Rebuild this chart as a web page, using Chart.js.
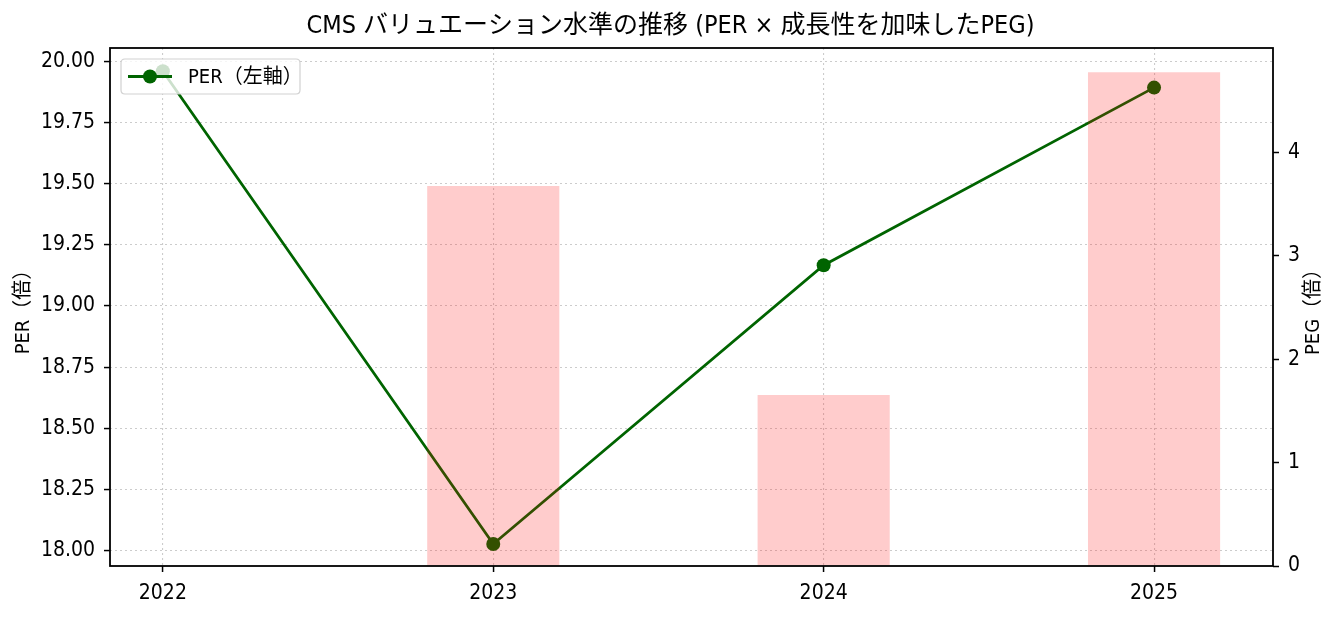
<!DOCTYPE html>
<html>
<head>
<meta charset="utf-8">
<script src="https://cdn.jsdelivr.net/npm/chart.js@4/dist/chart.umd.min.js"></script>
<style>
  html, body { margin: 0; padding: 0; background: #ffffff; }
  #wrap { width: 1341px; height: 617px; }
</style>
</head>
<body>
<div id="wrap"><canvas id="c" width="1341" height="617"></canvas></div>
<script>
// ---- data ----
const years = [2022, 2023, 2024, 2025];
const perValues = [19.96, 18.027, 19.167, 19.893];
const pegValues = [null, 3.675, 1.654, 4.775];
const perTicks = [18.00, 18.25, 18.50, 18.75, 19.00, 19.25, 19.50, 19.75, 20.00];
const pegTicks = [0, 1, 2, 3, 4];
const yearTicks = [2022, 2023, 2024, 2025];

const titleText = 'CMS バリュエーション水準の推移 (PER × 成長性を加味したPEG)';
const perLabel = 'PER（左軸）';
const pegLabel = 'PEG';
const leftAxisTitle = 'PER（倍）';
const rightAxisTitle = 'PEG（倍）';

const FONT = "'Liberation Sans Narrow', 'DejaVu Sans Condensed', 'Noto Sans CJK JP', sans-serif";
const LINE_COLOR = '#006400';
const BAR_COLOR = 'rgba(255,0,0,0.2)';
const GRID_COLOR = 'rgba(176,176,176,0.65)';

const framePlugin = {
  id: 'frameAndLegend',
  afterDraw(chart) {
    const ctx = chart.ctx;
    const a = chart.chartArea;
    ctx.save();
    // frame
    ctx.strokeStyle = '#000000';
    ctx.lineWidth = 1.8;
    ctx.setLineDash([]);
    ctx.strokeRect(a.left, a.top, a.right - a.left, a.bottom - a.top);

    // right axis title (rotated bottom-to-top)
    ctx.fillStyle = '#000000';
    ctx.font = '20px ' + FONT;
    ctx.textAlign = 'center';
    ctx.textBaseline = 'middle';
    ctx.translate(1314, (a.top + a.bottom) / 2);
    ctx.rotate(-Math.PI / 2);
    ctx.fillText(rightAxisTitle, 0, 0);
    ctx.restore();

    // legend box
    ctx.save();
    const lx = a.left + 11, ly = a.top + 11, lw = 179, lh = 35, r = 4;
    ctx.beginPath();
    ctx.moveTo(lx + r, ly);
    ctx.lineTo(lx + lw - r, ly);
    ctx.quadraticCurveTo(lx + lw, ly, lx + lw, ly + r);
    ctx.lineTo(lx + lw, ly + lh - r);
    ctx.quadraticCurveTo(lx + lw, ly + lh, lx + lw - r, ly + lh);
    ctx.lineTo(lx + r, ly + lh);
    ctx.quadraticCurveTo(lx, ly + lh, lx, ly + lh - r);
    ctx.lineTo(lx, ly + r);
    ctx.quadraticCurveTo(lx, ly, lx + r, ly);
    ctx.closePath();
    ctx.fillStyle = 'rgba(255,255,255,0.8)';
    ctx.fill();
    ctx.strokeStyle = 'rgba(204,204,204,0.9)';
    ctx.lineWidth = 1.2;
    ctx.stroke();

    const ds = chart.data.datasets[0];
    const cy = ly + lh / 2;
    ctx.strokeStyle = ds.borderColor;
    ctx.lineWidth = ds.borderWidth;
    ctx.beginPath();
    ctx.moveTo(lx + 7, cy);
    ctx.lineTo(lx + 51, cy);
    ctx.stroke();
    ctx.fillStyle = ds.backgroundColor;
    ctx.beginPath();
    ctx.arc(lx + 29, cy, ds.pointRadius, 0, Math.PI * 2);
    ctx.fill();
    ctx.fillStyle = '#000000';
    ctx.font = '20px ' + FONT;
    ctx.textAlign = 'left';
    ctx.textBaseline = 'middle';
    ctx.fillText(ds.label, lx + 67, cy + 1);
    ctx.restore();
  }
};

const chart = new Chart(document.getElementById('c'), {
  type: 'line',
  data: {
    datasets: [
      {
        type: 'line',
        label: perLabel,
        data: years.map((x, i) => ({ x: x, y: perValues[i] })),
        xAxisID: 'x',
        yAxisID: 'y',
        borderColor: LINE_COLOR,
        backgroundColor: LINE_COLOR,
        borderWidth: 2.8,
        pointRadius: 7,
        pointHoverRadius: 7,
        pointBorderWidth: 0,
        tension: 0,
        fill: false,
        order: 2
      },
      {
        type: 'bar',
        label: pegLabel,
        data: years.map((x, i) => ({ x: x, y: pegValues[i] })),
        xAxisID: 'x',
        yAxisID: 'y1',
        backgroundColor: BAR_COLOR,
        borderWidth: 0,
        barPercentage: 0.4,
        categoryPercentage: 1.0,
        order: 1
      }
    ]
  },
  options: {
    responsive: false,
    animation: false,
    events: [],
    layout: { padding: { left: 0, right: 0, top: 0, bottom: 0 } },
    plugins: {
      legend: { display: false },
      tooltip: { enabled: false },
      title: {
        display: true,
        text: titleText,
        color: '#000000',
        font: { family: FONT, size: 25, weight: 'normal' },
        padding: { top: 11, bottom: 7 }
      }
    },
    scales: {
      x: {
        type: 'linear',
        position: 'bottom',
        min: 2021.84,
        max: 2025.36,
        offset: false,
        afterBuildTicks: (s) => { s.ticks = yearTicks.map(v => ({ value: v })); },
        afterFit: (s) => { s.height = 51; },
        ticks: {
          color: '#000000',
          font: { family: FONT, size: 21 },
          padding: 9,
          maxRotation: 0,
          autoSkip: false,
          callback: (v) => String(v)
        },
        grid: {
          offset: false,
          color: GRID_COLOR,
          lineWidth: 1.1,
          drawTicks: true,
          tickLength: 6,
          tickColor: '#000000',
          tickWidth: 1.5,
          tickBorderDash: []
        },
        border: { display: false, dash: [2, 3] }
      },
      y: {
        type: 'linear',
        position: 'left',
        min: 17.937,
        max: 20.055,
        afterBuildTicks: (s) => { s.ticks = perTicks.map(v => ({ value: v })); },
        afterFit: (s) => { s.width = 110; },
        ticks: {
          color: '#000000',
          font: { family: FONT, size: 21 },
          padding: 9,
          autoSkip: false,
          callback: (v) => Number(v).toFixed(2)
        },
        title: {
          display: true,
          text: leftAxisTitle,
          color: '#000000',
          font: { family: FONT, size: 20 },
          padding: { top: 12, bottom: 0 }
        },
        grid: {
          color: GRID_COLOR,
          lineWidth: 1.1,
          drawTicks: true,
          tickLength: 6,
          tickColor: '#000000',
          tickWidth: 1.5,
          tickBorderDash: []
        },
        border: { display: false, dash: [2, 3] }
      },
      y1: {
        type: 'linear',
        position: 'right',
        min: 0,
        max: 5.0085,
        afterBuildTicks: (s) => { s.ticks = pegTicks.map(v => ({ value: v })); },
        afterFit: (s) => { s.width = 68; },
        ticks: {
          color: '#000000',
          font: { family: FONT, size: 21 },
          padding: 9,
          autoSkip: false,
          callback: (v) => String(v)
        },
        grid: {
          drawOnChartArea: false,
          drawTicks: true,
          tickLength: 6,
          tickColor: '#000000',
          tickWidth: 1.5,
          tickBorderDash: []
        },
        border: { display: false }
      }
    }
  },
  plugins: [framePlugin]
});
</script>
</body>
</html>
